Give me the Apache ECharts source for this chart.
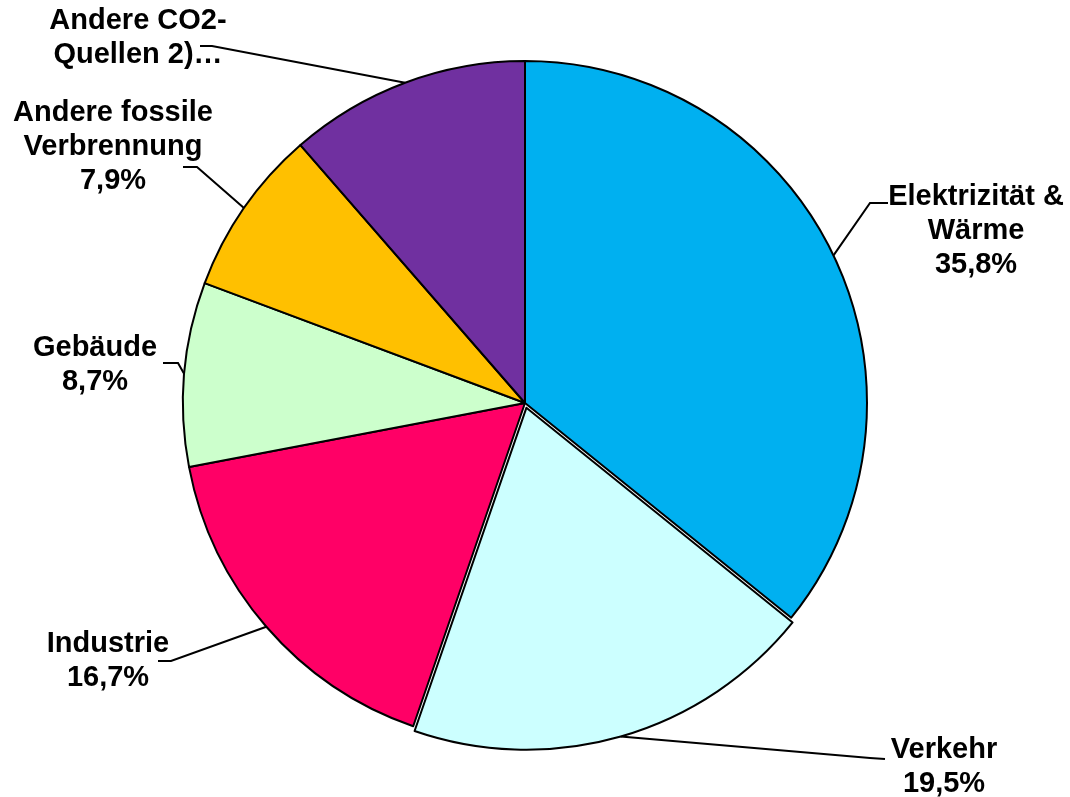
<!DOCTYPE html>
<html>
<head>
<meta charset="utf-8">
<script src="https://cdn.jsdelivr.net/npm/echarts@6/dist/echarts.min.js"></script>
<style>
  html, body { margin: 0; padding: 0; background: #ffffff; }
  #chart { width: 1070px; height: 797px; }
</style>
</head>
<body>
<div id="chart"></div>
<script>
// Sector names (with line breaks as shown), shares in percent, fills
const categories = [
  'Elektrizität &\nWärme',
  'Verkehr',
  'Industrie',
  'Gebäude',
  'Andere fossile\nVerbrennung',
  'Andere CO2-\nQuellen 2)…'
];
const shares = [35.8, 19.5, 16.7, 8.7, 7.9, 11.4];
const showShare = [true, true, true, true, true, false];
const colors = ['#00B0F0', '#CCFFFF', '#FF0066', '#CCFFCC', '#FFC000', '#7030A0'];
const pulledOut = [false, true, false, false, false, false];

// Label block centres and the elbow / end points of each leader line
const labelPlacement = [
  { x: 976, y: 231, elbow: [870, 203], end: [888, 203] },
  { x: 944, y: 767, elbow: [870, 758], end: [885, 759] },
  { x: 108, y: 661, elbow: [171, 661], end: [158, 661] },
  { x: 95,  y: 365, elbow: [178, 363], end: [163, 363] },
  { x: 113, y: 147, elbow: [197, 167], end: [183, 167] },
  { x: 138, y: 38,  elbow: [212, 46],  end: [200, 46] }
];

const pieCenter = [525, 403];
const pieRadius = 342;
const pullDistance = 5;

const total = shares.reduce((a, b) => a + b, 0);
const midAngle = i => {
  let before = 0;
  for (let k = 0; k < i; k++) before += shares[k];
  return (before + shares[i] / 2) / total * 2 * Math.PI; // clockwise from 12 o'clock
};
const pulledIndex = pulledOut.indexOf(true);
const pullVec = [Math.sin(midAngle(pulledIndex)) * pullDistance, -Math.cos(midAngle(pulledIndex)) * pullDistance];

const fmt = v => v.toFixed(1).replace('.', ',') + '%';

const textStyle = {
  color: '#000000',
  fontFamily: '"Liberation Sans", Arial, sans-serif',
  fontWeight: 'bold',
  fontSize: 29,
  lineHeight: 34
};

// Main pie: every sector except the pulled-out one (left transparent there)
const mainData = categories.map((name, i) => ({
  name: name,
  value: shares[i],
  itemStyle: pulledOut[i]
    ? { color: 'transparent', borderWidth: 0 }
    : { color: colors[i] }
}));

// Overlay pie: only the pulled-out sector is visible, shifted outwards
const pulledData = categories.map((name, i) => ({
  name: name,
  value: shares[i],
  itemStyle: pulledOut[i]
    ? { color: colors[i] }
    : { color: 'transparent', borderWidth: 0 }
}));

const chart = echarts.init(document.getElementById('chart'), null, { renderer: 'canvas' });

chart.setOption({
  animation: false,
  backgroundColor: '#ffffff',
  series: [{
    type: 'pie',
    center: pieCenter,
    radius: pieRadius,
    startAngle: 90,
    clockwise: true,
    avoidLabelOverlap: false,
    data: mainData,
    itemStyle: { borderColor: '#000000', borderWidth: 2 },
    emphasis: { disabled: true },
    label: Object.assign({
      show: true,
      position: 'outside',
      overflow: 'none',
      align: 'center',
      formatter: p => showShare[p.dataIndex] ? p.name + '\n' + fmt(p.value) : p.name
    }, textStyle),
    labelLine: {
      show: true,
      length: 20,
      length2: 10,
      smooth: false,
      lineStyle: { color: '#000000', width: 2 }
    },
    labelLayout: function (params) {
      const i = params.dataIndex;
      const pl = labelPlacement[i];
      const a = midAngle(i);
      const r = pieRadius + (pulledOut[i] ? pullDistance : 0);
      const anchor = [pieCenter[0] + r * Math.sin(a), pieCenter[1] - r * Math.cos(a)];
      return {
        x: pl.x,
        y: pl.y,
        align: 'center',
        verticalAlign: 'middle',
        labelLinePoints: [anchor, pl.elbow, pl.end]
      };
    }
  }, {
    type: 'pie',
    center: [pieCenter[0] + pullVec[0], pieCenter[1] + pullVec[1]],
    radius: pieRadius,
    startAngle: 90,
    clockwise: true,
    silent: true,
    data: pulledData,
    itemStyle: { borderColor: '#000000', borderWidth: 2 },
    emphasis: { disabled: true },
    label: { show: false },
    labelLine: { show: false }
  }]
});
</script>
</body>
</html>
